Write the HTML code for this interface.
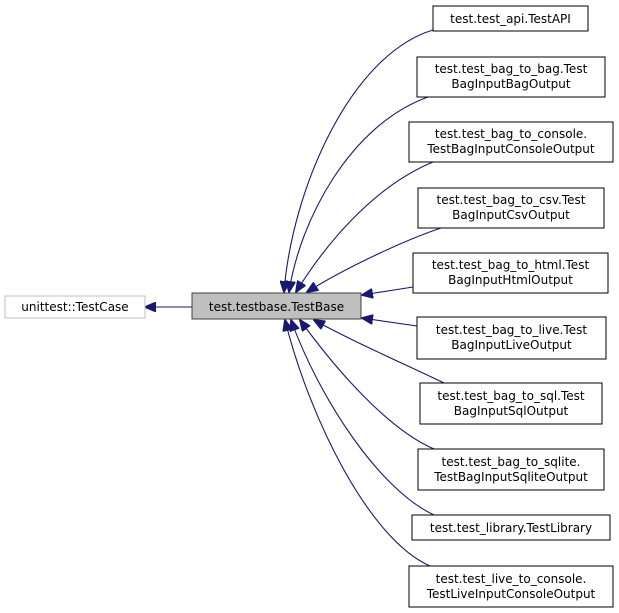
<!DOCTYPE html>
<html><head><meta charset="utf-8"><style>
html,body{margin:0;padding:0;background:#fff;}
svg{display:block;}
text{font-family:"DejaVu Sans","Liberation Sans",sans-serif;font-size:12px;fill:#000;}
</style></head><body>
<svg width="619" height="613" viewBox="0 0 619 613" xmlns="http://www.w3.org/2000/svg">
<defs>
<marker id="a" markerWidth="12" markerHeight="10" refX="11" refY="5" orient="auto" markerUnits="userSpaceOnUse">
<polygon points="0,0 12,5 0,10" fill="#191970" stroke="#191970"/>
</marker>
</defs>
<g fill="none" stroke="#191970" stroke-width="1.1" marker-end="url(#a)">
<path d="M433,30 C350,55 292,190 284,292"/>
<path d="M428,97 C350,125 300,220 289,292"/>
<path d="M433,162 C370,188 322,250 296,292"/>
<path d="M441,228 C405,240 345,268 307,292"/>
<path d="M413,287 L362,295"/>
<path d="M417,326 L362,318"/>
<path d="M444,383 C400,362 350,340 314,320"/>
<path d="M434,449 C390,430 340,375 300,320"/>
<path d="M434,515 C380,490 320,400 291,320"/>
<path d="M430,566 C370,540 310,420 285,320"/>
<path d="M192,307 L145,307"/>
</g>
<rect x="5" y="296" width="140" height="22" fill="#fff" stroke="#bfbfbf"/>
<text x="75" y="311" text-anchor="middle">unittest::TestCase</text>
<rect x="192" y="293" width="169" height="26" fill="#bfbfbf" stroke="#404040"/>
<text x="276.5" y="311" text-anchor="middle">test.testbase.TestBase</text>
<g fill="#fff" stroke="#000">
<rect x="433" y="6" width="155" height="25"/>
<rect x="417" y="57" width="188" height="40"/>
<rect x="409" y="122" width="204" height="40"/>
<rect x="418" y="188" width="186" height="40"/>
<rect x="413" y="253" width="195" height="40"/>
<rect x="417" y="317" width="189" height="42"/>
<rect x="420" y="383" width="182" height="41"/>
<rect x="418" y="449" width="186" height="41"/>
<rect x="412" y="515" width="198" height="25"/>
<rect x="409" y="566" width="204" height="41"/>
</g>
<g text-anchor="middle">
<text x="510.5" y="23">test.test_api.TestAPI</text>
<text x="511" y="73">test.test_bag_to_bag.Test</text><text x="511" y="88">BagInputBagOutput</text>
<text x="511" y="138">test.test_bag_to_console.</text><text x="511" y="153">TestBagInputConsoleOutput</text>
<text x="511" y="204">test.test_bag_to_csv.Test</text><text x="511" y="219">BagInputCsvOutput</text>
<text x="510.5" y="269">test.test_bag_to_html.Test</text><text x="510.5" y="284">BagInputHtmlOutput</text>
<text x="511.5" y="334">test.test_bag_to_live.Test</text><text x="511.5" y="349">BagInputLiveOutput</text>
<text x="511" y="400">test.test_bag_to_sql.Test</text><text x="511" y="415">BagInputSqlOutput</text>
<text x="511" y="466">test.test_bag_to_sqlite.</text><text x="511" y="481">TestBagInputSqliteOutput</text>
<text x="511" y="532">test.test_library.TestLibrary</text>
<text x="511" y="583">test.test_live_to_console.</text><text x="511" y="598">TestLiveInputConsoleOutput</text>
</g>
</svg>
</body></html>
